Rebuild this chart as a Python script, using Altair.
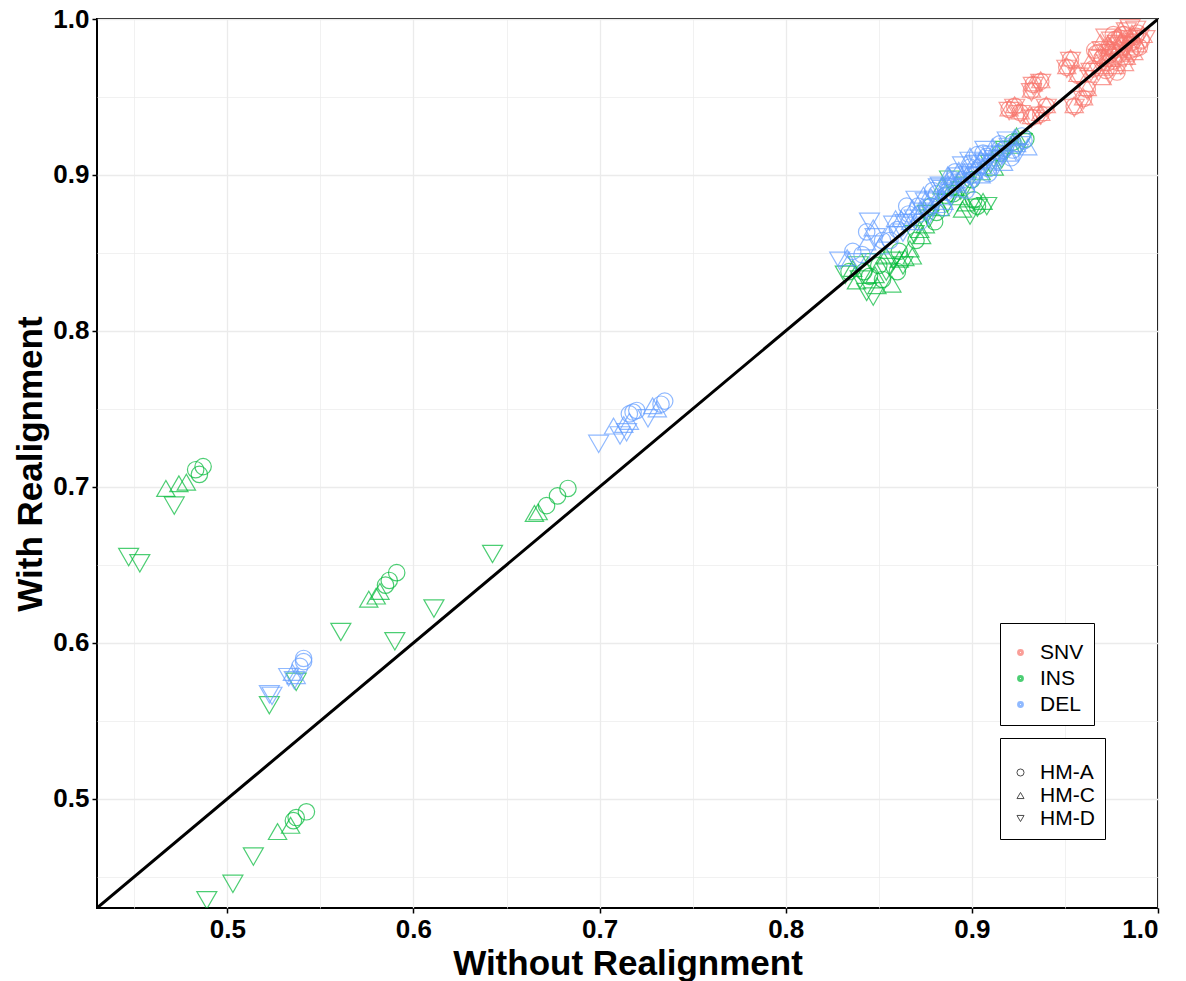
import altair as alt
import pandas as pd

# Variant concordance, (without realignment, with realignment, method)
snv_points = [
    (0.965, 0.968, "HM-A"), (0.967, 0.972, "HM-C"), (0.968, 0.966, "HM-D"), (0.970, 0.975, "HM-A"),
    (0.971, 0.969, "HM-C"), (0.972, 0.978, "HM-D"), (0.973, 0.972, "HM-A"), (0.974, 0.983, "HM-C"),
    (0.975, 0.975, "HM-D"), (0.976, 0.980, "HM-A"), (0.977, 0.970, "HM-C"), (0.978, 0.984, "HM-D"),
    (0.979, 0.977, "HM-A"), (0.980, 0.986, "HM-C"), (0.981, 0.979, "HM-D"), (0.982, 0.990, "HM-A"),
    (0.983, 0.982, "HM-C"), (0.984, 0.987, "HM-D"), (0.985, 0.980, "HM-A"), (0.986, 0.991, "HM-C"),
    (0.987, 0.985, "HM-D"), (0.988, 0.989, "HM-A"), (0.989, 0.984, "HM-C"), (0.990, 0.988, "HM-D"),
    (0.991, 0.986, "HM-A"), (0.969, 0.985, "HM-C"), (0.972, 0.988, "HM-D"), (0.976, 0.990, "HM-A"),
    (0.980, 0.993, "HM-C"), (0.985, 0.994, "HM-D"), (0.978, 0.966, "HM-A"), (0.982, 0.972, "HM-C"),
    (0.986, 0.976, "HM-D"), (0.966, 0.980, "HM-A"), (0.971, 0.982, "HM-C"), (0.975, 0.986, "HM-D"),
    (0.979, 0.988, "HM-A"), (0.983, 0.976, "HM-C"), (0.974, 0.964, "HM-D"), (0.988, 0.981, "HM-A"),
    (0.963, 0.972, "HM-C"), (0.964, 0.966, "HM-D"), (0.967, 0.978, "HM-A"), (0.969, 0.970, "HM-C"),
    (0.970, 0.980, "HM-D"), (0.972, 0.967, "HM-A"), (0.973, 0.984, "HM-C"), (0.975, 0.978, "HM-D"),
    (0.977, 0.987, "HM-A"), (0.978, 0.975, "HM-C"), (0.980, 0.970, "HM-D"), (0.981, 0.990, "HM-A"),
    (0.982, 0.978, "HM-C"), (0.984, 0.983, "HM-D"), (0.986, 0.985, "HM-A"), (0.987, 0.979, "HM-C"),
    (0.988, 0.993, "HM-D"), (0.990, 0.982, "HM-A"), (0.992, 0.990, "HM-C"), (0.993, 0.987, "HM-D"),
    (0.976, 0.973, "HM-A"), (0.979, 0.982, "HM-C"), (0.983, 0.992, "HM-D"), (0.985, 0.988, "HM-A"),
    (0.970, 0.963, "HM-C"), (0.968, 0.975, "HM-D"), (0.974, 0.977, "HM-A"), (0.977, 0.982, "HM-C"),
    (0.981, 0.983, "HM-D"), (0.989, 0.991, "HM-A"),
    (0.953, 0.974, "HM-A"), (0.953, 0.975, "HM-C"), (0.953, 0.973, "HM-D"),
    (0.951, 0.969, "HM-A"), (0.951, 0.970, "HM-C"), (0.951, 0.968, "HM-D"),
    (0.957, 0.964, "HM-A"), (0.957, 0.965, "HM-C"), (0.957, 0.963, "HM-D"),
    (0.962, 0.955, "HM-A"), (0.962, 0.956, "HM-C"), (0.962, 0.954, "HM-D"),
    (0.960, 0.949, "HM-A"), (0.960, 0.950, "HM-C"), (0.960, 0.948, "HM-D"),
    (0.955, 0.944, "HM-A"), (0.955, 0.945, "HM-C"), (0.955, 0.943, "HM-D"),
    (0.933, 0.958, "HM-A"), (0.933, 0.959, "HM-C"), (0.933, 0.957, "HM-D"),
    (0.937, 0.960, "HM-A"), (0.937, 0.961, "HM-C"), (0.937, 0.959, "HM-D"),
    (0.932, 0.954, "HM-A"), (0.932, 0.955, "HM-C"), (0.932, 0.953, "HM-D"),
    (0.920, 0.942, "HM-A"), (0.920, 0.943, "HM-C"), (0.920, 0.941, "HM-D"),
    (0.926, 0.940, "HM-A"), (0.926, 0.941, "HM-C"), (0.926, 0.939, "HM-D"),
    (0.923, 0.944, "HM-A"), (0.923, 0.945, "HM-C"), (0.923, 0.943, "HM-D"),
    (0.937, 0.939, "HM-A"), (0.937, 0.940, "HM-C"), (0.937, 0.938, "HM-D"),
    (0.932, 0.937, "HM-A"), (0.932, 0.938, "HM-C"), (0.932, 0.936, "HM-D"),
    (0.940, 0.944, "HM-A"), (0.940, 0.945, "HM-C"), (0.940, 0.943, "HM-D"),
]

ins_points = [
    (0.487, 0.713, "HM-A"), (0.483, 0.711, "HM-A"), (0.485, 0.708, "HM-A"),
    (0.478, 0.703, "HM-C"), (0.474, 0.702, "HM-C"), (0.467, 0.699, "HM-C"),
    (0.4715, 0.688, "HM-D"), (0.447, 0.655, "HM-D"), (0.453, 0.651, "HM-D"),
    (0.591, 0.645, "HM-A"), (0.587, 0.640, "HM-A"), (0.585, 0.637, "HM-A"),
    (0.582, 0.633, "HM-C"), (0.576, 0.628, "HM-C"), (0.580, 0.630, "HM-C"),
    (0.561, 0.607, "HM-D"), (0.590, 0.601, "HM-D"), (0.611, 0.622, "HM-D"),
    (0.5226, 0.560, "HM-D"), (0.537, 0.575, "HM-D"),
    (0.5425, 0.4917, "HM-A"), (0.537, 0.488, "HM-A"), (0.5355, 0.486, "HM-A"),
    (0.534, 0.483, "HM-C"), (0.527, 0.479, "HM-C"),
    (0.514, 0.463, "HM-D"), (0.503, 0.4455, "HM-D"), (0.489, 0.435, "HM-D"),
    (0.6425, 0.657, "HM-D"), (0.665, 0.683, "HM-C"), (0.667, 0.684, "HM-C"),
    (0.683, 0.699, "HM-A"), (0.6774, 0.6942, "HM-A"), (0.6715, 0.688, "HM-A"),
    (0.836, 0.840, "HM-C"), (0.840, 0.833, "HM-D"), (0.845, 0.835, "HM-A"),
    (0.8435, 0.825, "HM-D"), (0.849, 0.829, "HM-C"), (0.854, 0.838, "HM-D"),
    (0.854, 0.848, "HM-C"), (0.861, 0.851, "HM-A"), (0.863, 0.842, "HM-D"),
    (0.8667, 0.8526, "HM-C"), (0.858, 0.845, "HM-D"), (0.850, 0.842, "HM-A"),
    (0.838, 0.832, "HM-C"), (0.846, 0.844, "HM-D"), (0.868, 0.848, "HM-C"),
    (0.852, 0.833, "HM-A"), (0.832, 0.836, "HM-D"), (0.861, 0.846, "HM-C"),
    (0.842, 0.838, "HM-A"), (0.848, 0.836, "HM-C"), (0.856, 0.841, "HM-D"),
    (0.860, 0.838, "HM-A"), (0.864, 0.847, "HM-C"), (0.839, 0.842, "HM-D"),
    (0.834, 0.838, "HM-A"), (0.857, 0.830, "HM-C"), (0.847, 0.822, "HM-D"),
    (0.872, 0.865, "HM-C"), (0.877, 0.872, "HM-D"), (0.881, 0.876, "HM-A"),
    (0.884, 0.893, "HM-C"), (0.888, 0.897, "HM-D"), (0.886, 0.887, "HM-A"),
    (0.891, 0.892, "HM-C"), (0.894, 0.890, "HM-D"), (0.878, 0.880, "HM-A"),
    (0.869, 0.862, "HM-D"), (0.875, 0.868, "HM-C"),
    (0.870, 0.858, "HM-A"), (0.873, 0.861, "HM-C"), (0.876, 0.875, "HM-D"),
    (0.880, 0.870, "HM-A"), (0.883, 0.879, "HM-C"), (0.887, 0.882, "HM-D"),
    (0.890, 0.888, "HM-A"), (0.893, 0.886, "HM-C"), (0.897, 0.893, "HM-D"),
    (0.900, 0.897, "HM-A"), (0.905, 0.902, "HM-C"), (0.910, 0.907, "HM-D"),
    (0.895, 0.878, "HM-C"), (0.899, 0.874, "HM-D"), (0.903, 0.880, "HM-A"),
    (0.906, 0.883, "HM-C"), (0.908, 0.880, "HM-D"), (0.901, 0.884, "HM-A"),
    (0.897, 0.882, "HM-C"), (0.903, 0.879, "HM-D"),
    (0.924, 0.925, "HM-C"), (0.927, 0.921, "HM-D"), (0.929, 0.923, "HM-A"),
    (0.921, 0.919, "HM-C"), (0.916, 0.910, "HM-D"), (0.912, 0.905, "HM-C"),
    (0.915, 0.914, "HM-A"), (0.918, 0.916, "HM-D"), (0.922, 0.921, "HM-A"),
]

del_points = [
    (0.541, 0.590, "HM-A"), (0.541, 0.588, "HM-A"), (0.539, 0.585, "HM-A"),
    (0.535, 0.581, "HM-C"), (0.537, 0.579, "HM-C"), (0.533, 0.578, "HM-D"),
    (0.536, 0.576, "HM-D"), (0.5226, 0.567, "HM-D"), (0.524, 0.566, "HM-D"),
    (0.6995, 0.7276, "HM-D"), (0.711, 0.733, "HM-D"), (0.7075, 0.739, "HM-C"),
    (0.7145, 0.735, "HM-D"), (0.713, 0.740, "HM-C"), (0.718, 0.748, "HM-A"),
    (0.716, 0.7468, "HM-A"), (0.720, 0.749, "HM-A"), (0.735, 0.755, "HM-A"),
    (0.733, 0.753, "HM-A"), (0.7285, 0.752, "HM-C"), (0.726, 0.744, "HM-D"),
    (0.731, 0.750, "HM-C"), (0.716, 0.742, "HM-C"),
    (0.829, 0.845, "HM-D"), (0.833, 0.847, "HM-C"), (0.836, 0.851, "HM-A"),
    (0.838, 0.844, "HM-D"), (0.8435, 0.857, "HM-C"), (0.8435, 0.8635, "HM-A"),
    (0.845, 0.870, "HM-D"), (0.8505, 0.8545, "HM-C"), (0.847, 0.866, "HM-C"),
    (0.841, 0.849, "HM-A"), (0.848, 0.860, "HM-D"), (0.852, 0.858, "HM-A"),
    (0.855, 0.862, "HM-C"), (0.858, 0.868, "HM-D"), (0.860, 0.865, "HM-A"),
    (0.862, 0.872, "HM-C"), (0.864, 0.869, "HM-D"), (0.866, 0.875, "HM-A"),
    (0.868, 0.878, "HM-C"), (0.869, 0.872, "HM-D"), (0.871, 0.880, "HM-A"),
    (0.873, 0.877, "HM-C"), (0.875, 0.883, "HM-D"), (0.876, 0.879, "HM-A"),
    (0.878, 0.886, "HM-C"), (0.880, 0.884, "HM-D"), (0.881, 0.888, "HM-A"),
    (0.883, 0.886, "HM-C"), (0.884, 0.891, "HM-D"), (0.886, 0.889, "HM-A"),
    (0.887, 0.894, "HM-C"), (0.889, 0.892, "HM-D"), (0.890, 0.897, "HM-A"),
    (0.892, 0.895, "HM-C"), (0.893, 0.899, "HM-D"), (0.895, 0.897, "HM-A"),
    (0.896, 0.902, "HM-C"), (0.898, 0.900, "HM-D"), (0.899, 0.905, "HM-A"),
    (0.901, 0.903, "HM-C"), (0.902, 0.907, "HM-D"), (0.904, 0.905, "HM-A"),
    (0.905, 0.910, "HM-C"), (0.907, 0.908, "HM-D"), (0.908, 0.912, "HM-A"),
    (0.910, 0.909, "HM-C"), (0.911, 0.913, "HM-D"), (0.913, 0.911, "HM-A"),
    (0.914, 0.915, "HM-C"), (0.916, 0.913, "HM-D"), (0.917, 0.916, "HM-A"),
    (0.919, 0.914, "HM-C"), (0.920, 0.918, "HM-D"), (0.922, 0.916, "HM-A"),
    (0.924, 0.920, "HM-C"), (0.926, 0.919, "HM-D"), (0.928, 0.922, "HM-A"),
    (0.897, 0.894, "HM-C"), (0.903, 0.899, "HM-D"), (0.909, 0.904, "HM-A"),
    (0.893, 0.903, "HM-C"), (0.899, 0.909, "HM-D"), (0.906, 0.914, "HM-A"),
    (0.885, 0.883, "HM-C"), (0.879, 0.879, "HM-D"), (0.872, 0.870, "HM-A"),
    (0.888, 0.899, "HM-C"), (0.882, 0.892, "HM-D"),
    (0.856, 0.858, "HM-A"), (0.859, 0.872, "HM-C"), (0.863, 0.863, "HM-D"),
    (0.865, 0.880, "HM-A"), (0.867, 0.870, "HM-C"), (0.870, 0.884, "HM-D"),
    (0.872, 0.875, "HM-A"), (0.874, 0.887, "HM-C"), (0.877, 0.874, "HM-D"),
    (0.879, 0.890, "HM-A"), (0.881, 0.881, "HM-C"), (0.883, 0.893, "HM-D"),
    (0.885, 0.879, "HM-A"), (0.887, 0.900, "HM-C"), (0.889, 0.886, "HM-D"),
    (0.891, 0.902, "HM-A"), (0.893, 0.891, "HM-C"), (0.895, 0.906, "HM-D"),
    (0.897, 0.890, "HM-A"), (0.899, 0.912, "HM-C"), (0.901, 0.896, "HM-D"),
    (0.903, 0.913, "HM-A"), (0.905, 0.900, "HM-C"), (0.907, 0.916, "HM-D"),
    (0.909, 0.901, "HM-A"), (0.911, 0.918, "HM-C"), (0.913, 0.905, "HM-D"),
    (0.915, 0.920, "HM-A"), (0.917, 0.908, "HM-C"), (0.919, 0.922, "HM-D"),
    (0.921, 0.911, "HM-A"), (0.923, 0.924, "HM-C"), (0.925, 0.914, "HM-D"),
    (0.927, 0.925, "HM-A"), (0.930, 0.918, "HM-C"), (0.894, 0.895, "HM-D"),
    (0.900, 0.900, "HM-A"), (0.906, 0.906, "HM-C"), (0.912, 0.910, "HM-D"),
    (0.918, 0.917, "HM-A"),
]

types = ["SNV", "INS", "DEL"]
type_colors = ["#F8766D", "#00BA38", "#619CFF"]
methods = ["HM-A", "HM-C", "HM-D"]
method_shapes = ["circle", "triangle-up", "triangle-down"]
# marker areas follow the sorted method names (HM-A, HM-C, HM-D)
method_sizes = [270, 400, 400]

all_ticks = [0.45, 0.5, 0.55, 0.6, 0.65, 0.7, 0.75, 0.8, 0.85, 0.9, 0.95, 1.0]
axis_range = [0.43, 1.0]

rows = []
for vtype, pts in zip(types, [snv_points, ins_points, del_points]):
    for x, y, hm in pts:
        rows.append({"without": x, "with": y, "type": vtype, "method": hm, "marker": hm})
points_df = pd.DataFrame(rows)
diag_df = pd.DataFrame({"v": axis_range})

minor_test = "round(datum.value * 100) % 10 != 0"


def make_axis(title):
    return alt.Axis(
        title=title,
        values=all_ticks,
        labelExpr="round(datum.value * 100) % 10 == 0 ? format(datum.value, '.1f') : ''",
        tickColor={"condition": {"test": minor_test, "value": "transparent"}, "value": "black"},
        gridWidth={"condition": {"test": minor_test, "value": 0.7}, "value": 1.3},
        domain=False,
    )


x_scale = alt.Scale(domain=axis_range, nice=False, zero=False)
y_scale = alt.Scale(domain=axis_range, nice=False, zero=False)

common_legend = dict(
    orient="none",
    legendX=903,
    padding=10,
    strokeColor="black",
    fillColor="white",
    labelFont="Liberation Sans",
    labelFontSize=21,
    labelColor="black",
    symbolOffset=0,
    labelOffset=9,
    title=" ",
)

points = alt.Chart(points_df).mark_point(filled=False, strokeWidth=1.2, clip=True).encode(
    x=alt.X("without:Q", scale=x_scale, axis=make_axis("Without Realignment")),
    y=alt.Y("with:Q", scale=y_scale, axis=make_axis("With Realignment")),
    color=alt.Color(
        "type:N",
        scale=alt.Scale(domain=types, range=type_colors),
        legend=alt.Legend(
            legendY=604, titleFontSize=5, titlePadding=4, rowPadding=4,
            symbolType="circle", symbolSize=8, symbolStrokeWidth=4, **common_legend,
        ),
    ),
    shape=alt.Shape(
        "method:N",
        scale=alt.Scale(domain=methods, range=method_shapes),
        legend=alt.Legend(
            legendY=719, titleFontSize=8, titlePadding=6, rowPadding=1,
            symbolSize=50, symbolStrokeColor="black", symbolStrokeWidth=1, **common_legend,
        ),
    ),
    size=alt.Size("marker:N", scale=alt.Scale(range=method_sizes), legend=None),
)

diagonal = alt.Chart(diag_df).mark_line(color="black", strokeWidth=3, clip=True).encode(
    x=alt.X("v:Q", scale=x_scale),
    y=alt.Y("v:Q", scale=y_scale),
)

chart = (
    alt.layer(points, diagonal)
    .properties(
        width=1061,
        height=889,
        autosize=alt.AutoSizeParams(type="none"),
        padding={"left": 97, "top": 19, "right": 28, "bottom": 73},
        background="white",
    )
    .configure_view(stroke="black", strokeWidth=2)
    .configure_axis(
        labelFont="Liberation Sans",
        labelFontSize=26,
        labelFontWeight="bold",
        labelColor="black",
        labelPadding=3,
        titleFont="Liberation Sans",
        titleFontSize=35,
        titleFontWeight="bold",
        titleColor="black",
        titlePadding=4,
        tickSize=5,
        tickWidth=1.5,
        gridColor="#EBEBEB",
    )
)

chart.save("out.html", embed_options={"renderer": "svg", "actions": False})
